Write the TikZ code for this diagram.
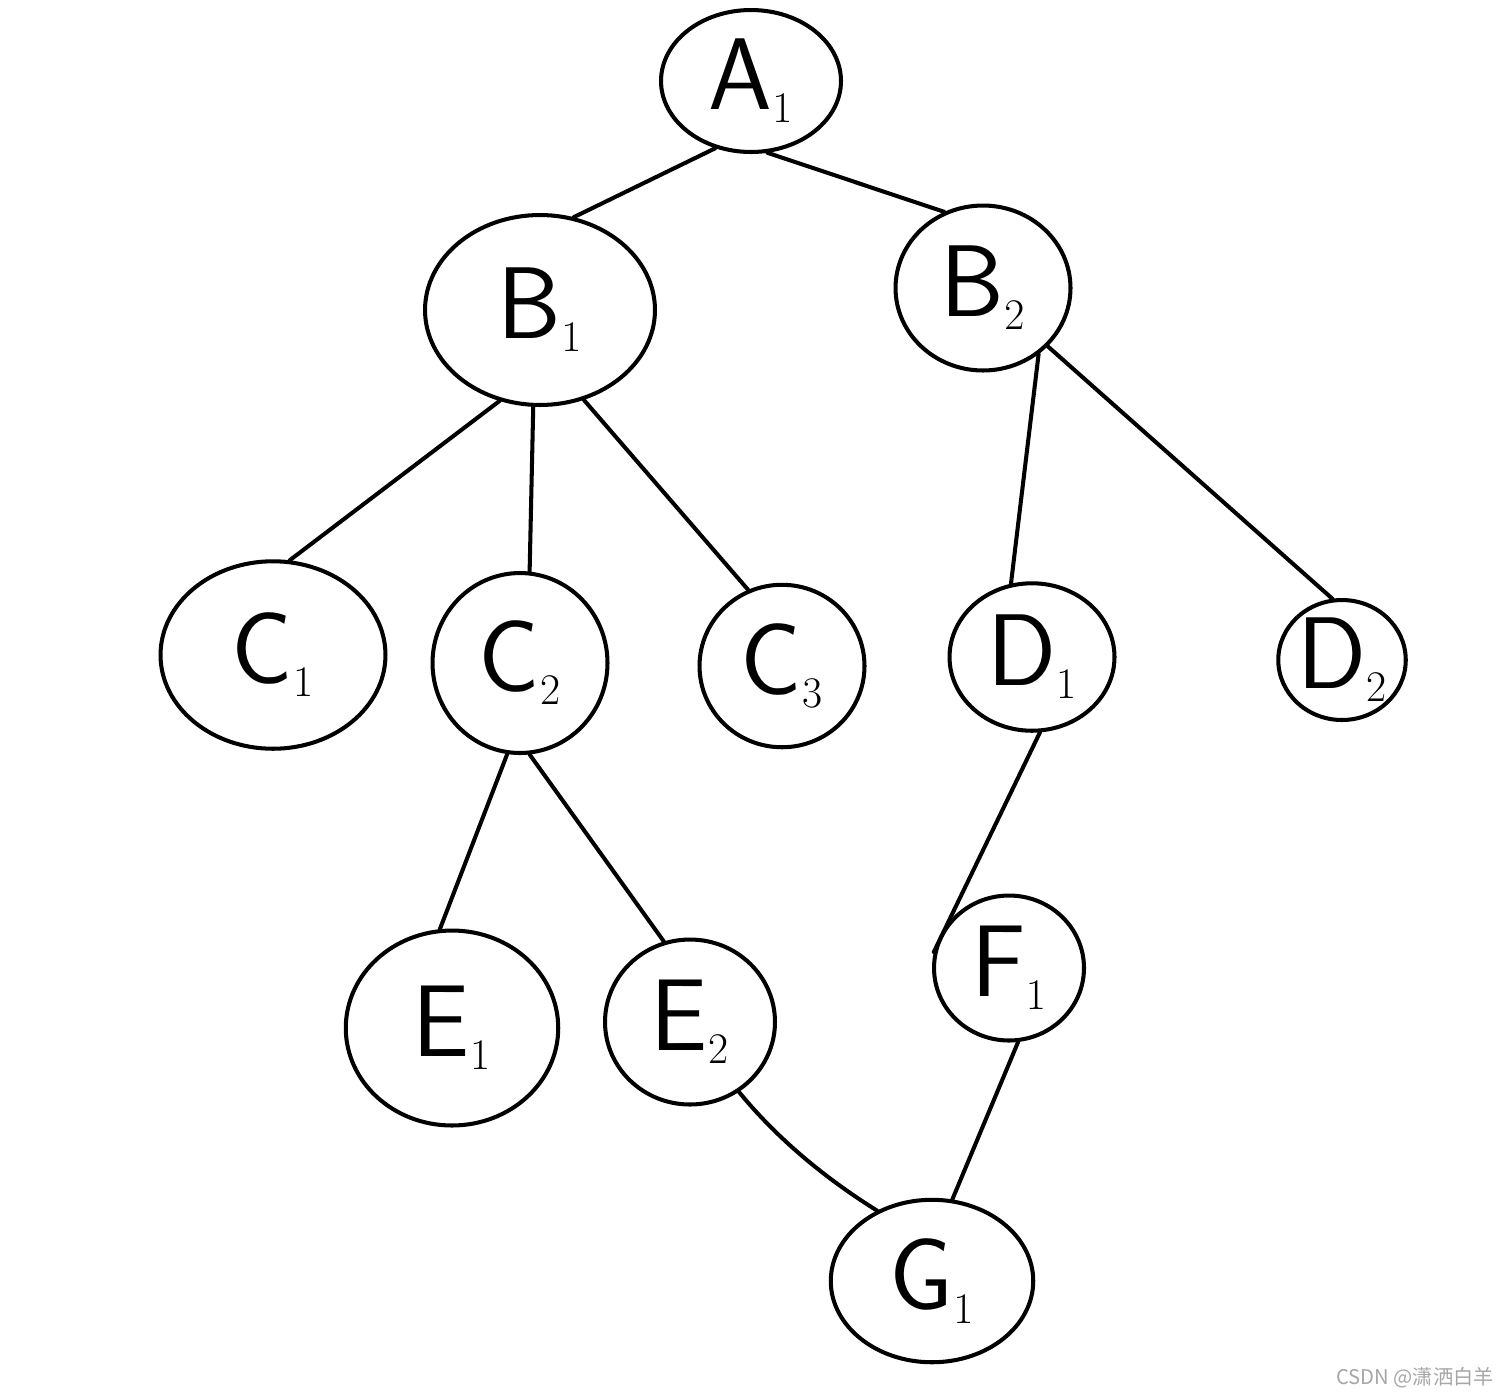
\documentclass[tikz,border=0pt]{standalone}
\usepackage{fontspec}
\newfontfamily\cjk{Noto Sans CJK SC}
\usetikzlibrary{shapes.geometric}
\tikzset{
  circ/.style={ellipse, draw, line width=2.3pt, inner sep=0pt, font=\sffamily\fontsize{58}{60}\selectfont},
  edge/.style={line width=2.3pt, line cap=round}
}
\begin{document}
\begin{tikzpicture}[x=0.02cm,y=-0.02cm]
\useasboundingbox[fill=white] (0,0) rectangle (1506,1397);
\node[circ, minimum width=3.6cm, minimum height=2.84cm] (A1) at (751,81) {A$_1$};
\node[circ, minimum width=4.6cm, minimum height=3.8cm] (B1) at (540,310) {B$_1$};
\node[circ, minimum width=3.5cm, minimum height=3.3cm] (B2) at (983,288) {B$_2$};
\node[circ, minimum width=4.5cm, minimum height=3.75cm] (C1) at (273,655) {C$_1$};
\node[circ, minimum width=3.5cm, minimum height=3.6cm] (C2) at (520,663) {C$_2$};
\node[circ, minimum width=3.3cm, minimum height=3.25cm] (C3) at (782,666) {C$_3$};
\node[circ, minimum width=3.3cm, minimum height=2.95cm] (D1) at (1032,657) {D$_1$};
\node[circ, minimum width=2.55cm, minimum height=2.4cm] (D2) at (1342,660) {D$_2$};
\node[circ, minimum width=4.25cm, minimum height=3.9cm] (E1) at (452,1028) {E$_1$};
\node[circ, minimum width=3.4cm, minimum height=3.3cm] (E2) at (690,1022) {E$_2$};
\node[circ, minimum width=3.0cm, minimum height=2.9cm] (F1) at (1009,968) {F$_1$};
\node[circ, minimum width=4.05cm, minimum height=3.25cm] (G1) at (932,1281) {G$_1$};
\draw[edge] (A1.242) -- (B1.70);
\draw[edge] (A1.283) -- (B2.117);
\draw[edge] (B1.246) -- (C1.80);
\draw[edge] (B1.266) -- (C2.84);
\draw[edge] (B1.296) -- (C3.114);
\draw[edge] (B2.310) -- (D1.106);
\draw[edge] (B2.318) -- (D2.99);
\draw[edge] (C2.262) -- (E1.97);
\draw[edge] (C2.276) -- (E2.108);
\draw[edge] (D1.276) -- (F1.168);
\draw[edge] (E2.305) .. controls +(45,55) and +(-40,-25) .. (G1.128);
\draw[edge] (F1.277) -- (G1.76);
\node[text=gray!70, font=\cjk\fontsize{11.5}{13}\selectfont, anchor=east] (wm) at (1500,1378) {CSDN @潇洒白羊};
\end{tikzpicture}
\end{document}
